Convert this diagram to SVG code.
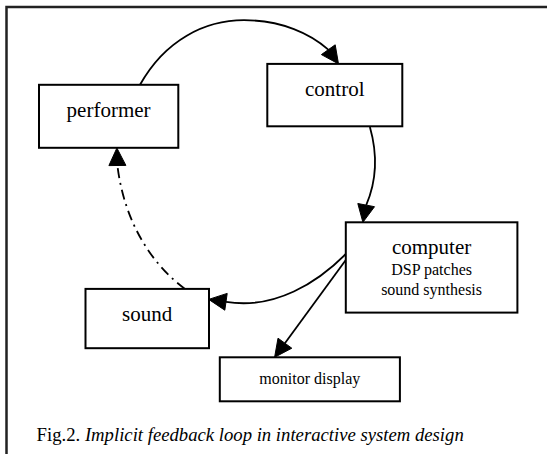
<svg xmlns="http://www.w3.org/2000/svg" width="547" height="454" viewBox="0 0 547 454">
<style>
.box{fill:#fff;stroke:#000;stroke-width:2}
.lbl{font-family:"Liberation Serif","Times New Roman",serif;fill:#000;text-anchor:middle}
.big{font-size:21px}
.small{font-size:16px}
.edge{fill:none;stroke:#000;stroke-width:1.8}
.head{fill:#000;stroke:#000;stroke-width:1}
</style>
<rect x="0" y="0" width="547" height="454" fill="#fff"/>
<rect x="6.5" y="7" width="600" height="500" fill="none" stroke="#222" stroke-width="2.5"/>
<g id="connectors">
<path class="edge" d="M140,84.8 C165,40 205,20.2 244,20.2 C282,20.2 311,34 328.3,49.7"/>
<polygon class="head" points="321.4,54.6 335.2,44.8 338.5,63.9"/>
<path class="edge" d="M369.9,127 C377,152 377,180 366.2,205.1"/>
<polygon class="head" points="374.5,206.7 357.8,203.5 362.9,222.3"/>
<path class="edge" d="M345.8,254 C318,282 275,310 226,301.8"/>
<polygon class="head" points="227.2,293.4 224.8,310.2 208.7,299.4"/>
<path class="edge" d="M345.8,260 L284.9,343.2"/>
<polygon class="head" points="291.8,348.2 278,338.2 274.6,357.3"/>
<path class="edge" d="M185,288.9 C150,263 124,220 117.4,165.5" stroke-dasharray="10,5,2,5"/>
<polygon class="head" points="108.9,165.6 125.9,165.4 116.9,148"/>
</g>
<g id="performer">
<rect class="box" x="39" y="84.8" width="139.3" height="63"/>
<text class="lbl big" x="108.6" y="117">performer</text>
</g>
<g id="control">
<rect class="box" x="267.3" y="63.9" width="135" height="62.4"/>
<text class="lbl big" x="334.8" y="96">control</text>
</g>
<g id="computer">
<rect class="box" x="345.8" y="222.3" width="171.6" height="90.3"/>
<text class="lbl big" x="431.6" y="254">computer</text>
<text class="lbl small" x="431.6" y="275">DSP patches</text>
<text class="lbl small" x="431.6" y="295">sound synthesis</text>
</g>
<g id="sound">
<rect class="box" x="85.5" y="288.9" width="123.5" height="59.3"/>
<text class="lbl big" x="147.2" y="321">sound</text>
</g>
<g id="monitor">
<rect class="box" x="219.8" y="357.3" width="180.1" height="44"/>
<text class="lbl small" x="309.8" y="384">monitor display</text>
</g>
<text x="36.6" y="441" font-family="'Liberation Serif','Times New Roman',serif" font-size="18.7" fill="#000">Fig.2. <tspan font-style="italic">Implicit feedback loop in interactive system design</tspan></text>
</svg>
